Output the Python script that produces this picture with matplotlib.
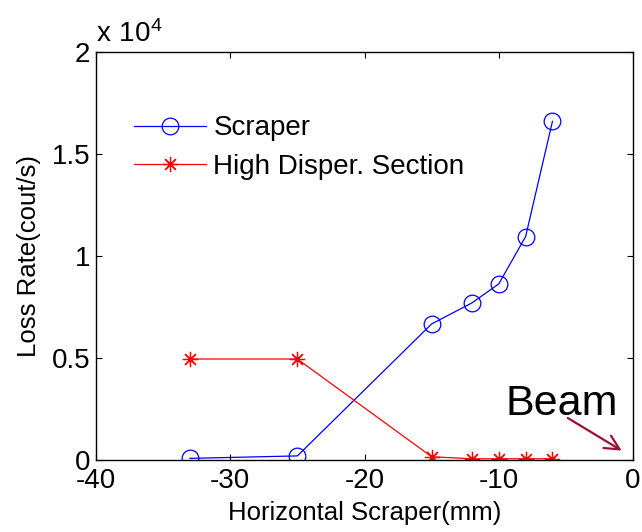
import numpy as np
import matplotlib
matplotlib.use("Agg")
from matplotlib import pyplot as plt

plt.rcParams['font.family'] = ['Liberation Sans', 'DejaVu Sans']
plt.rcParams['axes.unicode_minus'] = False
plt.rcParams['mathtext.fontset'] = 'custom'
plt.rcParams['mathtext.rm'] = 'Liberation Sans'

pos = [-33, -25, -15, -12, -10, -8, -6]
scraper = [80, 200, 6670, 7700, 8630, 10950, 16600]
high_disp = [4950, 4950, 160, 60, 60, 60, 60]

fig = plt.figure(figsize=(6.42, 5.32), dpi=100)
ax = fig.add_axes([96/642, 1-460/532, (633-96)/642, (460-52)/532])

star = (8, 2, 0)  # asterisk like matlab '*'
ax.plot(pos, scraper, 'b-o', mfc='none', ms=12, lw=0.9, mew=0.9, label='Scraper')
ax.plot(pos, high_disp, 'r-', marker=star, ms=11, lw=0.9, mew=0.9, label='High Disper. Section')

ax.set_xlim(-40, 0)
ax.set_ylim(0, 20000)
ax.set_xticks([-40, -30, -20, -10, 0])
ax.set_yticks([0, 5000, 10000, 15000, 20000])
ax.set_yticklabels(['0', '0.5', '1', '1.5', '2'])
ax.tick_params(direction='in', top=True, right=True, labelsize=20, length=4, width=0.8, pad=4)
ax.tick_params(axis='x', pad=6)
for s in ax.spines.values():
    s.set_linewidth(1.0)

ax.text(0.0, 1.01, r'$\mathregular{x\ 10^{4}}$', transform=ax.transAxes, fontsize=20,
        ha='left', va='bottom')

ax.set_xlabel('Horizontal Scraper(mm)', fontsize=18.5, labelpad=5)
ax.set_ylabel('Loss Rate(cout/s)', fontsize=18.5, labelpad=8)

ax.legend(loc='upper left', bbox_to_anchor=(0.071, 0.845), frameon=False, fontsize=20,
          handlelength=2.6, handletextpad=0.25, numpoints=1, labelspacing=0.45,
          borderpad=0, borderaxespad=0)

ax.text(-9.5, 2200, 'Beam', fontsize=31, ha='left', va='baseline')
ax.annotate('', xy=(-0.84, 460), xytext=(-4.86, 2060),
            arrowprops=dict(arrowstyle='->', color='#9b1030', lw=1.6, mutation_scale=26,
                            shrinkA=0, shrinkB=0))

fig.savefig('out.png', dpi=100)
